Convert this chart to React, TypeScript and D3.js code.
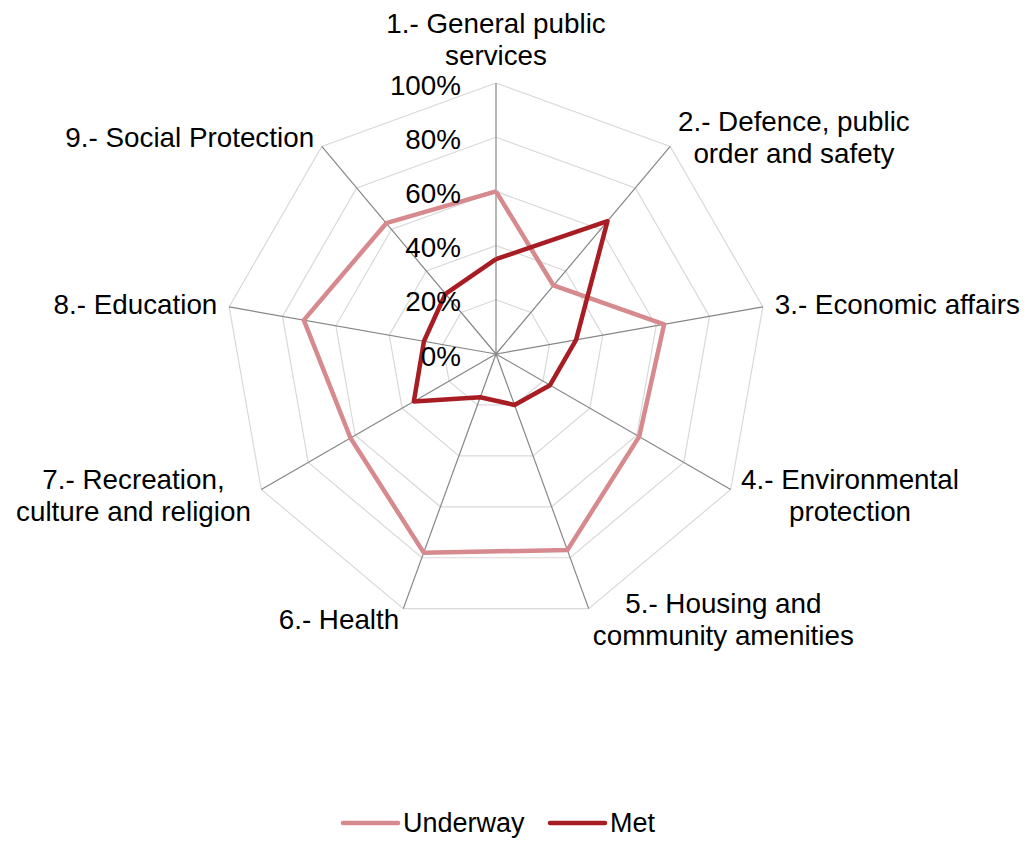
import React, { useEffect, useRef } from "react";
import * as d3 from "d3";

const categories: string[][] = [
  ["1.- General public", "services"],
  ["2.- Defence, public", "order and safety"],
  ["3.- Economic affairs"],
  ["4.- Environmental", "protection"],
  ["5.- Housing and", "community amenities"],
  ["6.- Health"],
  ["7.- Recreation,", "culture and religion"],
  ["8.- Education"],
  ["9.- Social Protection"],
];
const underway: number[] = [0.6, 0.33, 0.63, 0.61, 0.77, 0.78, 0.62, 0.72, 0.63];
const met: number[] = [0.35, 0.64, 0.3, 0.23, 0.2, 0.17, 0.35, 0.27, 0.29];
const tickValues: number[] = [0, 0.2, 0.4, 0.6, 0.8, 1.0];
const seriesNames: string[] = ["Underway", "Met"];
const seriesColors: string[] = ["#d68a8e", "#a81d24"];

const W = 1027;
const H = 841;
const CX = 496;
const CY = 354;
const R = 271;
const FONT = "'Liberation Sans', Arial, sans-serif";
const FS = 27.8;
const LFS = 27;
const LH = 32;

export default function App() {
  const ref = useRef<SVGSVGElement | null>(null);

  useEffect(() => {
    document.body.style.margin = "0";
    const svg = d3.select(ref.current!);
    svg.selectAll("*").remove();
    svg.append("rect").attr("width", W).attr("height", H).attr("fill", "#fff");

    const n = categories.length;
    const angle = d3.scaleLinear().domain([0, n]).range([0, 2 * Math.PI]);
    const r = d3.scaleLinear().domain([0, 1]).range([0, R]);
    const pt = (i: number, v: number): [number, number] => {
      const a = angle(i);
      return [CX + r(v) * Math.sin(a), CY - r(v) * Math.cos(a)];
    };

    const g = svg.append("g");

    // rings
    tickValues.slice(1).forEach((t) => {
      const pts = d3.range(n).map((i) => pt(i, t));
      g.append("path")
        .attr("d", d3.line()([...pts, pts[0]]) as string)
        .attr("fill", "none")
        .attr("stroke", "#d9d9d9")
        .attr("stroke-width", 1.2);
    });

    // spokes
    d3.range(n).forEach((i) => {
      const [x, y] = pt(i, 1);
      g.append("line")
        .attr("x1", CX).attr("y1", CY).attr("x2", x).attr("y2", y)
        .attr("stroke", "#868686")
        .attr("stroke-width", 1.2);
    });

    // series
    [underway, met].forEach((vals, si) => {
      const pts = vals.map((v, i) => pt(i, v));
      g.append("path")
        .attr("d", d3.line()([...pts, pts[0]]) as string)
        .attr("fill", "none")
        .attr("stroke", seriesColors[si])
        .attr("stroke-width", 4.5)
        .attr("stroke-linejoin", "round");
    });

    // tick labels
    tickValues.forEach((t) => {
      g.append("text")
        .attr("x", CX - 35)
        .attr("y", CY - r(t) + 2)
        .attr("text-anchor", "end")
        .attr("dominant-baseline", "central")
        .attr("font-family", FONT)
        .attr("font-size", FS)
        .attr("fill", "#000")
        .text(d3.format(".0%")(t));
    });

    // category labels
    categories.forEach((lines, i) => {
      const a = angle(i);
      const s = Math.sin(a);
      const c = Math.cos(a);
      const d = 12;
      const px = CX + (R + d) * s;
      const py = CY - (R + d) * c;
      const lg = g.append("g");
      lines.forEach((ln, k) => {
        lg.append("text")
          .attr("x", 0)
          .attr("y", k * LH)
          .attr("text-anchor", "middle")
          .attr("dominant-baseline", "central")
          .attr("font-family", FONT)
          .attr("font-size", FS)
          .attr("fill", "#000")
          .text(ln);
      });
      const bb = (lg.node() as SVGGElement).getBBox();
      const bw = bb.width;
      const blockH = lines.length * LH;
      let tx: number;
      if (Math.abs(s) < 0.1) tx = px;
      else if (s > 0) tx = px + bw / 2;
      else tx = px - bw / 2;
      let top: number;
      if (Math.abs(s) < 0.1 && c > 0) top = py - blockH;
      else top = py - blockH / 2;
      const ty = top + LH / 2;
      lg.attr("transform", `translate(${tx},${ty})`);
    });

    // legend
    const legendX = [343, 550];
    seriesNames.forEach((name, si) => {
      const x0 = legendX[si];
      svg.append("line")
        .attr("x1", x0).attr("x2", x0 + 55)
        .attr("y1", 823).attr("y2", 823)
        .attr("stroke", seriesColors[si])
        .attr("stroke-width", 4.5)
        .attr("stroke-linecap", "round");
      svg.append("text")
        .attr("x", x0 + 60)
        .attr("y", 823)
        .attr("dominant-baseline", "central")
        .attr("font-family", FONT)
        .attr("font-size", LFS)
        .attr("fill", "#000")
        .text(name);
    });
  }, []);

  return <svg ref={ref} width={W} height={H} style={{ display: "block" }} />;
}
